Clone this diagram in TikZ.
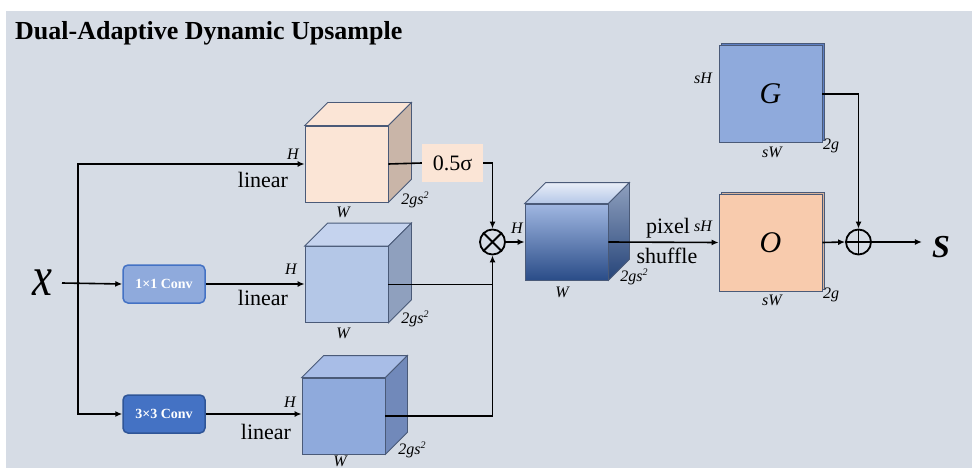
\documentclass[tikz,border=0pt]{standalone}
\usepackage{fontspec}
\setmainfont{Liberation Serif}
\usetikzlibrary{calc,arrows.meta}

\definecolor{panel}{HTML}{D6DCE5}
\definecolor{edge}{HTML}{4A5A78}
\definecolor{peachF}{HTML}{FBE5D6}
\definecolor{peachT}{HTML}{FBE5D6}
\definecolor{peachS}{HTML}{C9B5A8}
\definecolor{lbF}{HTML}{B4C7E7}
\definecolor{lbT}{HTML}{C5D3EE}
\definecolor{lbS}{HTML}{8FA0BE}
\definecolor{mbF}{HTML}{8FAADC}
\definecolor{mbT}{HTML}{A8BDE7}
\definecolor{mbS}{HTML}{7189BA}
\definecolor{convA}{HTML}{8FAADC}
\definecolor{convAb}{HTML}{4472C4}
\definecolor{convB}{HTML}{4472C4}
\definecolor{convBb}{HTML}{2F5597}
\definecolor{oFill}{HTML}{F8CBAD}
\definecolor{oBack}{HTML}{D9B59C}
\definecolor{gFill}{HTML}{8FAADC}
\definecolor{gBack}{HTML}{5E7FC2}
\definecolor{sigFill}{HTML}{FBE5D6}

\newcommand\fsz[1]{\fontsize{#1}{#1}\selectfont}
% channel count label with a small raised exponent
\newcommand\chans{2gs\raisebox{5.5pt}{\fsz{10}2}}

% top and right faces of a cube whose front face is node #1
\newcommand\cubefaces[4]{%
  \draw[cubeedge, fill=#3] (#1.north west) -- ++(#2,-#2) -- ($(#1.north east)+(#2,-#2)$) -- (#1.north east) -- cycle;
  \draw[cubeedge, fill=#4] (#1.north east) -- ++(#2,-#2) -- ($(#1.south east)+(#2,-#2)$) -- (#1.south east) -- cycle;
}

\tikzset{
  cubeedge/.style={draw=edge, line width=0.8pt},
  cubefront/.style={cubeedge, rectangle, inner sep=0pt, minimum width=83pt, minimum height=76pt},
  convbox/.style={rectangle, rounded corners=5pt, line width=1.5pt, inner sep=0pt,
    minimum width=82pt, minimum height=38pt, text=white, font=\fsz{14}\bfseries},
  flat/.style={rectangle, inner sep=0pt, minimum width=103pt, minimum height=97pt, line width=0.8pt},
  lbl/.style={inner sep=0pt, font=\fsz{16}\itshape},
  word/.style={inner sep=0pt, font=\fsz{22}},
  conn/.style={line width=1.6pt, draw=black},
  arr/.style={conn, -{Latex[length=7pt,width=6pt]}},
  opnode/.style={circle, draw=black, line width=1.8pt, minimum size=25pt, inner sep=0pt},
}

\begin{document}
\begin{tikzpicture}[x=1pt, y=-1pt]
\useasboundingbox (0,0) rectangle (974,468);
\fill[white] (0,0) rectangle (974,468);
\fill[panel] (6,11) rectangle (972,468);

\node[anchor=base west, inner sep=0pt, font=\fsz{26}\bfseries] (title) at (15,40) {Dual-Adaptive Dynamic Upsample};

% input
\node[inner sep=0pt, font=\fsz{56}\itshape] (xin) at (42,283) {\scalebox{0.8}[1]{x}};
\coordinate (xstart) at (62,283);
\coordinate (split) at (78,283);

% convolutions
\node[convbox, fill=convA, draw=convAb] (conv1) at (164,284) {1×1 Conv};
\node[convbox, fill=convB, draw=convBb] (conv3) at (164,414) {3×3 Conv};

% the three branch cubes
\node[cubefront, fill=peachF] (c1) at (346.5,164) {};
\cubefaces{c1}{23}{peachT}{peachS}
\node[cubefront, fill=lbF] (c2) at (346.5,284.5) {};
\cubefaces{c2}{23}{lbT}{lbS}
\node[cubefront, fill=mbF] (c3) at (343.5,416) {};
\cubefaces{c3}{22}{mbT}{mbS}

% sigmoid scaling
\node[rectangle, fill=sigFill, inner sep=0pt, minimum width=61pt, minimum height=38pt, font=\fsz{22}] (sig) at (452.5,163) {0.5σ};

% product
\node[opnode] (mul) at (492.5,242) {};
\draw[line width=1.8pt] (mul.north west) -- (mul.south east) (mul.north east) -- (mul.south west);

% merged cube
\node[cubefront, top color=mbF!85!white, bottom color=convBb!90!black] (c4) at (566.5,242) {};
\draw[cubeedge, top color=white!80!mbF, bottom color=lbF] (c4.north west) -- ++(21,-21) -- ($(c4.north east)+(21,-21)$) -- (c4.north east) -- cycle;
\draw[cubeedge, top color=lbS, bottom color=convBb!80!black] (c4.north east) -- ++(21,-21) -- ($(c4.south east)+(21,-21)$) -- (c4.south east) -- cycle;

% G and O maps
\node[flat, fill=gBack, draw=edge] (gback) at (773,92) {};
\node[flat, fill=gFill, draw=edge, font=\fsz{30}\itshape] (G) at (770.5,94) {G};
\node[flat, fill=oBack, draw=edge] (oback) at (773,240.5) {};
\node[flat, fill=oFill, draw=edge, font=\fsz{30}\itshape] (O) at (770.5,242.5) {O};

% sum and output
\node[opnode] (add) at (858.5,242) {};
\draw[line width=1.8pt] (add.north) -- (add.south) (add.west) -- (add.east);
\node[inner sep=0pt, font=\fsz{32}\bfseries\itshape] (sout) at (941,247) {S};

% dimension labels
\node[lbl] (h1) at (293,154) {H};
\node[lbl] (w1) at (343,212) {W};
\node[lbl] (d1) at (415,200) {\chans};
\node[lbl] (h2) at (291,269) {H};
\node[lbl] (w2) at (343,333) {W};
\node[lbl] (d2) at (415,319) {\chans};
\node[lbl] (h3) at (290,402) {H};
\node[lbl] (w3) at (340,461) {W};
\node[lbl] (d3) at (412,450) {\chans};
\node[lbl] (h4) at (517,228) {H};
\node[lbl] (w4) at (562,292) {W};
\node[lbl] (d4) at (634,277) {\chans};
\node[lbl] (gh) at (703,78) {sH};
\node[lbl] (gw) at (772,152) {sW};
\node[lbl] (gd) at (831,146) {2g};
\node[lbl] (oh) at (703,226) {sH};
\node[lbl] (ow) at (772,300) {sW};
\node[lbl] (od) at (831,295) {2g};

% operation words
\node[word] (lin1) at (263,180) {linear};
\node[word] (lin2) at (263,298) {linear};
\node[word] (lin3) at (266,432) {linear};
\node[word] (pix) at (668,228) {pixel};
\node[word] (shuf) at (667,256) {shuffle};

% connectors
\draw[arr] (xstart) -- (conv1.west);
\draw[arr] (split) |- (c1.west);
\draw[arr] (split) |- (conv3.west);
\draw[arr] (conv1.east) -- (conv1.east -| c2.west);
\draw[arr] (conv3.east) -- (conv3.east -| c3.west);
\draw[conn] (c1.east) -- (sig.west);
\draw[arr] (sig.east) -| (mul.north);
\draw[conn] (c2.east) -- (c2.east -| mul.south);
\draw[arr] (c3.east) -| (mul.south);
\draw[arr] (mul.east) -- (c4.west);
\draw[arr] (c4.east) -- (O.west);
\draw[arr] (G.east) -| (add.north);
\draw[arr] (O.east) -- (add.west);
\draw[arr] (add.east) -- ++(50,0) coordinate (send);
\end{tikzpicture}
\end{document}
